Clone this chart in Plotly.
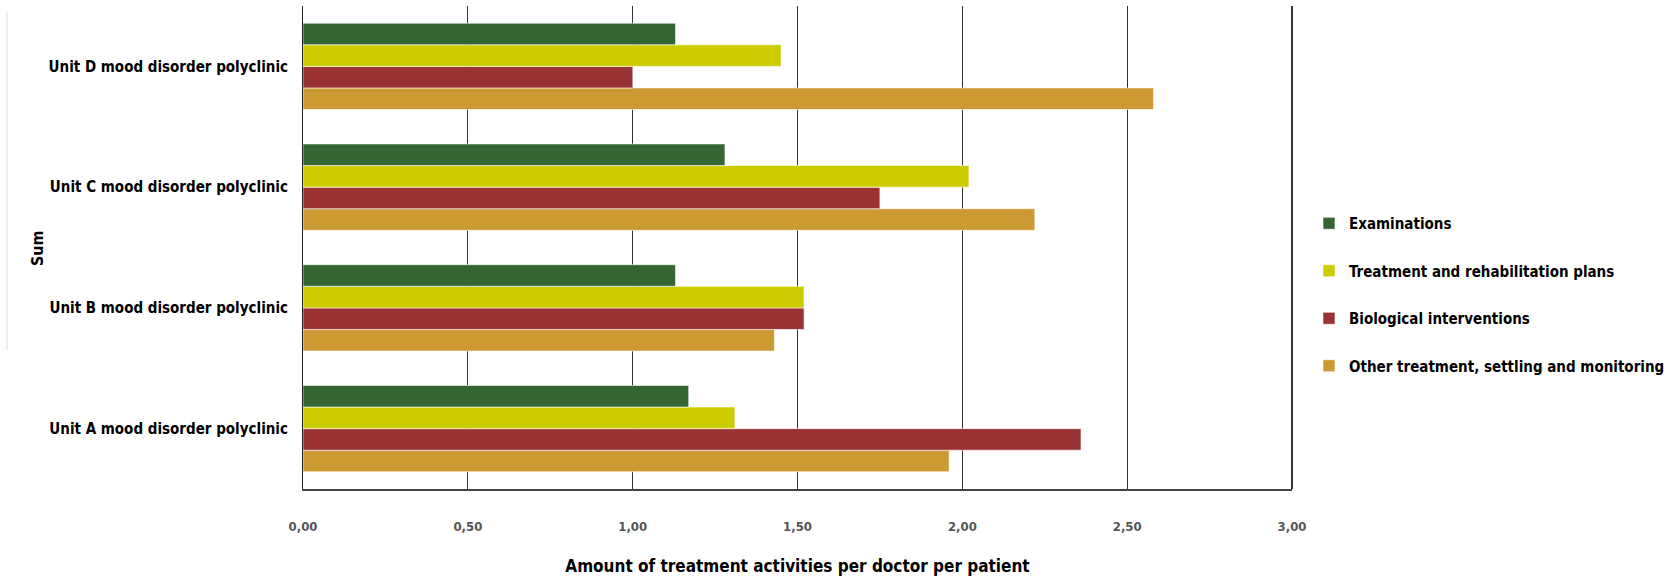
import plotly.graph_objects as go

categories = ["Unit A mood disorder polyclinic", "Unit B mood disorder polyclinic",
              "Unit C mood disorder polyclinic", "Unit D mood disorder polyclinic"]
examinations = [1.17, 1.13, 1.28, 1.13]
treatment_plans = [1.31, 1.52, 2.02, 1.45]
biological = [2.36, 1.52, 1.75, 1.00]
other_treatment = [1.96, 1.43, 2.22, 2.58]

series_names = ["Examinations", "Treatment and rehabilitation plans",
                "Biological interventions", "Other treatment, settling and monitoring"]
series_values = [examinations, treatment_plans, biological, other_treatment]
colors = ["#336633", "#CCCC00", "#993333", "#CC9933"]

tick_vals = [0, 0.5, 1.0, 1.5, 2.0, 2.5, 3.0]
tick_text = ["0,00", "0,50", "1,00", "1,50", "2,00", "2,50", "3,00"]

FONT = "DejaVu Sans Condensed, Liberation Sans Narrow, Arial Narrow, sans-serif"

fig = go.Figure()
# add in reverse so Examinations is on top within each group
for i in reversed(range(4)):
    fig.add_trace(go.Bar(
        y=categories, x=series_values[i], name=series_names[i], orientation="h",
        marker=dict(color=colors[i], line=dict(color="rgba(255,255,255,0.6)", width=1)),
        legendrank=i + 1, legendgroup=series_names[i],
    ))

W, H = 1671, 579
L, R, T, B = 303, 1671 - 1292, 6, 579 - 489

fig.update_layout(
    width=W, height=H,
    margin=dict(l=L, r=R, t=T, b=B, autoexpand=False),
    paper_bgcolor="white", plot_bgcolor="white",
    barmode="group", bargap=0.285, bargroupgap=0,
    font=dict(family=FONT, color="black", size=15),
    showlegend=True,
    legend=dict(
        xref="container", yref="container",
        x=1309 / W, y=1 - 207 / H, xanchor="left", yanchor="top",
        font=dict(family=FONT, size=15, color="black", weight="bold"),
        traceorder="grouped", tracegroupgap=25,
        itemwidth=30, bgcolor="rgba(0,0,0,0)",
    ),
    xaxis=dict(
        range=[0, 3], tickvals=tick_vals, ticktext=tick_text,
        showgrid=True, gridcolor="#333333", gridwidth=1,
        showline=True, linecolor="#444444", linewidth=2,
        zeroline=False, ticks="", ticklen=0,
        ticklabelstandoff=24,
        tickfont=dict(family=FONT, size=13, color="#555555", weight="bold"),
        title=dict(text="Amount of treatment activities per doctor per patient",
                   font=dict(family=FONT, size=17, color="black", weight="bold"), standoff=28),
    ),
    yaxis=dict(
        range=[-0.5, 3.5],
        showline=True, linecolor="#222222", linewidth=1,
        showgrid=False, zeroline=False, ticks="",
        tickfont=dict(family=FONT, size=15, color="black", weight="bold"),
        ticklabelstandoff=11,
    ),
    shapes=[
        dict(type="line", xref="paper", yref="paper", x0=1, x1=1, y0=0, y1=1,
             line=dict(color="#333333", width=2)),
        dict(type="line", xref="paper", yref="paper",
             x0=-(L - 7) / (W - L - R), x1=-(L - 7) / (W - L - R),
             y0=(489 - 350) / (489 - 6), y1=(489 - 12) / (489 - 6),
             line=dict(color="#dddddd", width=1)),
    ],
    annotations=[
        dict(text="Sum", xref="paper", yref="paper",
             x=-(L - 37) / (W - L - R), y=(489 - 248) / (489 - 6),
             textangle=-90, showarrow=False, xanchor="center", yanchor="middle",
             font=dict(family=FONT, size=16, color="black", weight="bold")),
    ],
)

fig.write_html("out.html")
